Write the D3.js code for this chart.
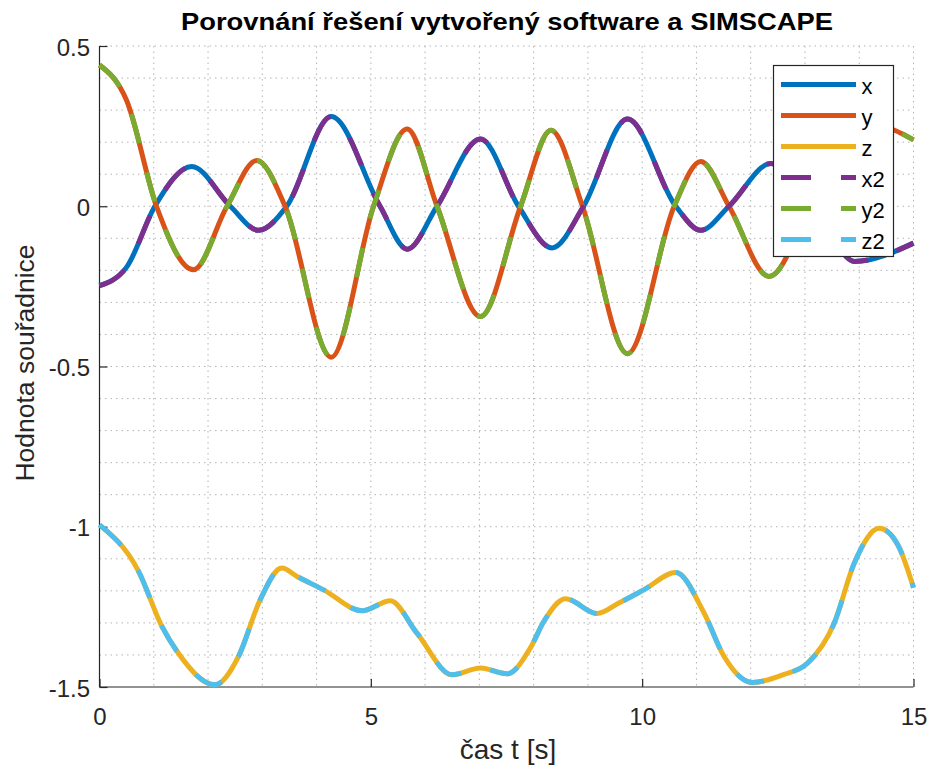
<!DOCTYPE html>
<html>
<head>
<meta charset="utf-8">
<script src="https://cdn.jsdelivr.net/npm/d3@7"></script>
<style>
  body { margin: 0; background: #fff; }
  text { font-family: "Liberation Sans", Arial, sans-serif; }
</style>
</head>
<body>
<svg width="933" height="767"></svg>
<script>
// data (time [s], value)
var xT = [0, 0.5, 1.02, 1.70, 2.41, 2.93, 3.45, 4.27, 5.17, 5.67, 6.22, 7.02, 7.72, 8.34, 8.92, 9.73, 10.62, 11.08, 11.6, 12.37, 13.2, 13.91, 15.0];
var xV = [-0.248, -0.19, 0, 0.124, 0, -0.075, 0, 0.28, 0, -0.134, 0, 0.21, 0, -0.13, 0, 0.272, 0, -0.075, 0, 0.133, 0, -0.172, -0.115];

var yT = [0, 0.5, 1.05, 1.73, 2.35, 2.90, 3.42, 4.27, 5.05, 5.67, 6.22, 7.02, 7.76, 8.32, 8.90, 9.73, 10.59, 11.08, 11.6, 12.34, 13.1, 13.95, 14.64, 15.0];
var yV = [0.441, 0.33, 0, -0.198, 0, 0.143, 0, -0.471, 0, 0.241, 0, -0.344, 0, 0.237, 0, -0.46, 0, 0.14, 0, -0.219, 0, 0.262, 0.238, 0.207];

var zT = [0, 0.72, 1.15, 1.45, 2.13, 2.56, 2.96, 3.36, 3.64, 4.13, 4.84, 5.36, 5.85, 6.50, 7.02, 7.51, 7.94, 8.19, 8.59, 9.17, 9.57, 10.03, 10.62, 11.14, 11.51, 12.03, 12.59, 13.05, 13.54, 13.91, 14.37, 14.71, 15.0];
var zV = [-0.994, -1.139, -1.311, -1.394, -1.493, -1.405, -1.228, -1.129, -1.155, -1.197, -1.262, -1.231, -1.332, -1.462, -1.441, -1.459, -1.378, -1.295, -1.225, -1.271, -1.238, -1.197, -1.143, -1.269, -1.405, -1.486, -1.462, -1.425, -1.30, -1.113, -1.005, -1.056, -1.19];

var names = ["x", "y", "z", "x2", "y2", "z2"];
var colors = ["#0072BD", "#D95319", "#EDB120", "#7E2F8E", "#77AC30", "#4DBEEE"];
var xTicks = [0, 5, 10, 15];
var yTicks = [-1.5, -1, -0.5, 0, 0.5];

var svg = d3.select("svg");
var pLeft = 99.5, pRight = 913.5, pTop = 46, pBottom = 687;

var xs = d3.scaleLinear().domain([0, 15]).range([pLeft, pRight]);
var ys = d3.scaleLinear().domain([-1.5, 0.5]).range([pBottom, pTop]);

// grid (dotted, every 1 s and 0.1)
var grid = svg.append("g").attr("stroke", "#b3b3b3").attr("stroke-width", 1)
  .attr("stroke-dasharray", "1.5,4");
grid.selectAll("line.v").data(d3.range(1, 16)).enter().append("line")
  .attr("x1", function(d) { return xs(d); }).attr("x2", function(d) { return xs(d); })
  .attr("y1", pTop).attr("y2", pBottom);
grid.selectAll("line.h").data(d3.range(-14, 6).map(function(d) { return d / 10; })).enter().append("line")
  .attr("x1", pLeft).attr("x2", pRight)
  .attr("y1", function(d) { return ys(d); }).attr("y2", function(d) { return ys(d); });

// axes
var xAxis = d3.axisBottom(xs).tickValues(xTicks).tickSize(-8).tickPadding(21).tickFormat(d3.format("d"));
var yAxis = d3.axisLeft(ys).tickValues(yTicks).tickSize(-8).tickPadding(9.5).tickFormat(function(d) { return d; });

var gx = svg.append("g").attr("transform", "translate(0," + pBottom + ")").call(xAxis);
var gy = svg.append("g").attr("transform", "translate(" + pLeft + ",0)").call(yAxis);
[gx, gy].forEach(function(g) {
  g.select(".domain").attr("stroke", "#262626").attr("stroke-width", 1.2);
  g.selectAll(".tick line").attr("stroke", "#262626").attr("stroke-width", 1.2);
  g.selectAll(".tick text").attr("fill", "#262626").style("font-size", "24px");
});
gy.selectAll(".tick text").attr("dy", "0.38em");
gx.select(".domain").attr("d", "M" + pLeft + ",0H" + pRight);
gy.select(".domain").attr("d", "M0," + pTop + "V" + pBottom);

// curves
function pts(T, V) { return T.map(function(t, i) { return [t, V[i]]; }); }
var series = [pts(xT, xV), pts(yT, yV), pts(zT, zV)];

var line = d3.line()
  .x(function(d) { return xs(d[0]); })
  .y(function(d) { return ys(d[1]); })
  .curve(d3.curveMonotoneX);

var plot = svg.append("g").attr("fill", "none").attr("stroke-width", 5);
series.forEach(function(s, i) {
  plot.append("path").attr("d", line(s)).attr("stroke", colors[i]);
});
series.forEach(function(s, i) {
  plot.append("path").attr("d", line(s)).attr("stroke", colors[i + 3])
    .attr("stroke-dasharray", "30,30");
});

// legend
var lg = svg.append("g");
lg.append("rect").attr("x", 773.5).attr("y", 65.5).attr("width", 120).attr("height", 191)
  .attr("fill", "#fff").attr("stroke", "#262626").attr("stroke-width", 1.2);
names.forEach(function(n, i) {
  var yy = 84.5 + i * 31;
  lg.append("line").attr("x1", 781).attr("x2", 856).attr("y1", yy).attr("y2", yy)
    .attr("stroke", colors[i]).attr("stroke-width", 5)
    .attr("stroke-dasharray", i < 3 ? null : "30,30");
  lg.append("text").attr("x", 861.5).attr("y", yy + 9).text(n)
    .style("font-size", "22px").attr("fill", "#000");
});

// title and labels
svg.append("text").attr("x", 507).attr("y", 30).attr("text-anchor", "middle")
  .attr("textLength", 652).attr("lengthAdjust", "spacingAndGlyphs")
  .style("font-size", "24px").style("font-weight", "bold").attr("fill", "#000")
  .text("Porovnání řešení vytvořený software a SIMSCAPE");
svg.append("text").attr("x", 508).attr("y", 759).attr("text-anchor", "middle")
  .style("font-size", "28px").attr("fill", "#262626").text("čas t [s]");
svg.append("text").attr("transform", "translate(34,363) rotate(-90)").attr("text-anchor", "middle")
  .style("font-size", "26.5px").attr("fill", "#262626").text("Hodnota souřadnice");
</script>
</body>
</html>
